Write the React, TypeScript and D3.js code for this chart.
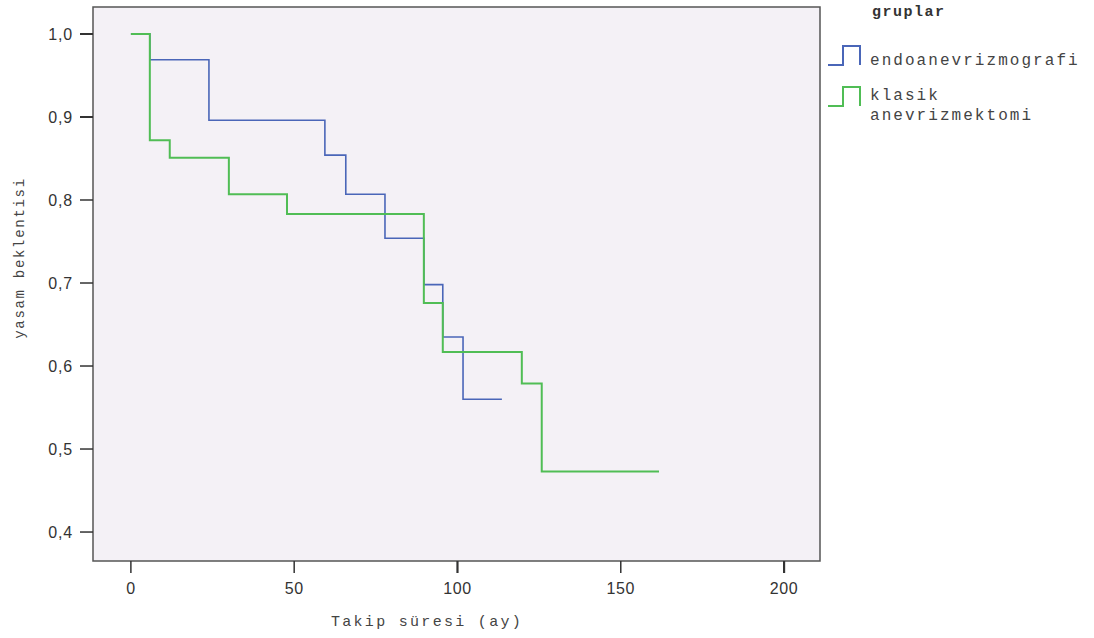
import React from "react";
import * as d3 from "d3";

const endoTimes = [0, 5.8, 23.9, 59.4, 65.8, 77.8, 89.7, 95.5, 101.7];
const endoSurv = [1.0, 0.969, 0.896, 0.854, 0.807, 0.754, 0.698, 0.635, 0.56];
const endoEnd = 113.6;

const klasikTimes = [0, 5.8, 11.9, 30, 47.8, 89.7, 95.5, 119.7, 125.8];
const klasikSurv = [1.0, 0.872, 0.851, 0.807, 0.783, 0.676, 0.617, 0.579, 0.473];
const klasikEnd = 161.7;

const xTicks = [0, 50, 100, 150, 200];
const yTicks = [0.4, 0.5, 0.6, 0.7, 0.8, 0.9, 1.0];

const groupNames = ["endoanevrizmografi", "klasik anevrizmektomi"];
const groupColors = ["#4a66b8", "#50bd55"];

const W = 1094;
const H = 638;
const L = 93, T = 7, R = 820, B = 561;

export default function App() {
  const x = d3.scaleLinear().domain([-11.6, 211]).range([L, R]);
  const y = d3.scaleLinear().domain([0.3651, 1.0325]).range([B, T]);
  const line = d3
    .line<[number, number]>()
    .x((d) => x(d[0]))
    .y((d) => y(d[1]))
    .curve(d3.curveStepAfter);

  const mk = (ts: number[], ss: number[], end: number): [number, number][] => {
    const pts: [number, number][] = ts.map((t, i) => [t, ss[i]]);
    pts.push([end, ss[ss.length - 1]]);
    return pts;
  };
  const series = [
    { pts: mk(endoTimes, endoSurv, endoEnd), color: groupColors[0], w: 1.6 },
    { pts: mk(klasikTimes, klasikSurv, klasikEnd), color: groupColors[1], w: 2 },
  ];

  const mono = "'Liberation Mono', 'DejaVu Sans Mono', monospace";
  const sans = "'Liberation Sans', Arial, sans-serif";

  const legendSym = (yb: number, yt: number, color: string) =>
    `M828,${yb} L843,${yb} L843,${yt} L860,${yt} L860,${yb}`;

  return (
    <svg width={W} height={H} style={{ position: "absolute", left: 0, top: 0, background: "#fff" }}>
      <rect x={L} y={T} width={R - L} height={B - T} fill="#f4f1f6" stroke="#555" strokeWidth={1.5} />
      {yTicks.map((t) => (
        <g key={t}>
          <line x1={L - 13} x2={L} y1={y(t)} y2={y(t)} stroke="#333" strokeWidth={t === 0.9 || t === 1.0 ? 2 : 1.5} />
          <text x={L - 20} y={y(t)} dy="0.36em" textAnchor="end" fontFamily={sans} fontSize={16} letterSpacing={0.8} fill="#333">
            {t.toFixed(1).replace(".", ",")}
          </text>
        </g>
      ))}
      {xTicks.map((t) => (
        <g key={t}>
          <line x1={x(t)} x2={x(t)} y1={B} y2={B + 12} stroke="#333" strokeWidth={t === 100 || t === 200 ? 2.2 : 1.5} />
          <text x={x(t)} y={B + 33} textAnchor="middle" fontFamily={sans} fontSize={16} letterSpacing={0.6} fill="#333">
            {t}
          </text>
        </g>
      ))}
      <text x={427} y={626} textAnchor="middle" fontFamily={mono} fontSize={15} letterSpacing={2.3} fill="#444">
        Takip süresi (ay)
      </text>
      <text
        transform={`translate(24,258) rotate(-90)`}
        textAnchor="middle"
        fontFamily={mono}
        fontSize={14}
        letterSpacing={1.7}
        fill="#444"
      >
        yasam beklentisi
      </text>
      {series.map((s, i) => (
        <path key={i} d={line(s.pts) || ""} fill="none" stroke={s.color} strokeWidth={s.w} />
      ))}
      <text x={872} y={16} fontFamily={mono} fontSize={15} fontWeight="bold" letterSpacing={1.5} fill="#333">
        gruplar
      </text>
      <path d={legendSym(65, 46, groupColors[0])} fill="none" stroke={groupColors[0]} strokeWidth={2} />
      <text x={870} y={65} fontFamily={mono} fontSize={16} letterSpacing={2.05} fill="#444">
        {groupNames[0]}
      </text>
      <path d={legendSym(106, 87, groupColors[1])} fill="none" stroke={groupColors[1]} strokeWidth={2} />
      <text fontFamily={mono} fontSize={16} letterSpacing={2.05} fill="#444">
        <tspan x={870} y={100}>{groupNames[1].split(" ")[0]}</tspan>
        <tspan x={870} y={120}>{groupNames[1].split(" ")[1]}</tspan>
      </text>
    </svg>
  );
}
